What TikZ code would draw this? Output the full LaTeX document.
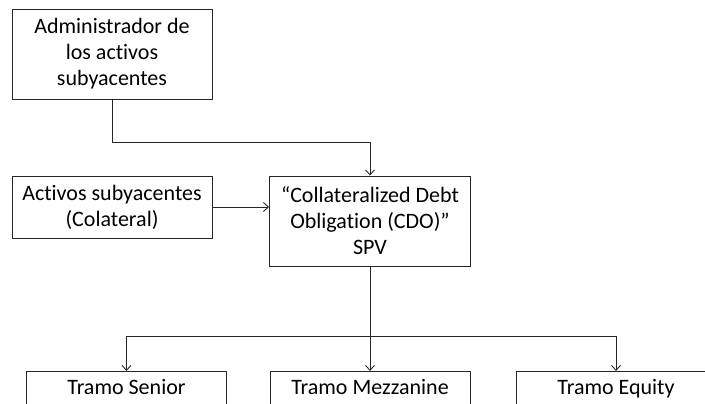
\documentclass[tikz,border=0pt]{standalone}
\usepackage{fontspec}
\setmainfont{Carlito}[RawFeature=-liga]
\usetikzlibrary{arrows.meta}
\tikzset{
  caja/.style={draw=black!85, line width=0.9pt, align=center, inner sep=0pt, minimum width=200pt},
  flecha/.style={draw=black!85, line width=0.9pt, -{Straight Barb[length=5pt,width=9pt]}}
}
\begin{document}
\begin{tikzpicture}[x=1pt, y=-1pt, font=\fontsize{22}{26}\selectfont]
  \useasboundingbox (0,0) rectangle (705,404);
  % upper row
  \node[caja, minimum height=90pt] (admin) at (112,54) {Administrador de\\los activos\\subyacentes};
  \node[caja, minimum height=62pt] (activos) at (112,207) {Activos subyacentes\\(Colateral)};
  \node[caja, minimum height=90pt, minimum width=201pt] (cdo) at (370,221) {“Collateralized Debt\\Obligation (CDO)”\\SPV};
  % tranches
  \node[caja, anchor=north, text height=15pt, text depth=5pt, inner ysep=8pt] (senior) at (126.5,371) {Tramo Senior};
  \node[caja, anchor=north, text height=15pt, text depth=5pt, inner ysep=8pt] (mezz) at (370,371) {Tramo Mezzanine};
  \node[caja, anchor=north, text height=15pt, text depth=5pt, inner ysep=8pt] (equity) at (616,371) {Tramo Equity};
  \coordinate (codo) at (112,142);
  \coordinate (bus) at (370,336);
  \draw[flecha] (admin.south) -- (codo) -| (cdo.north);
  \draw[flecha] (activos.east) -- (activos.east -| cdo.west);
  \draw[draw=black!85, line width=0.9pt] (cdo.south) -- (bus);
  \draw[flecha] (bus) -| (senior.north);
  \draw[flecha] (bus) -- (mezz.north);
  \draw[flecha] (bus) -| (equity.north);
\end{tikzpicture}
\end{document}
